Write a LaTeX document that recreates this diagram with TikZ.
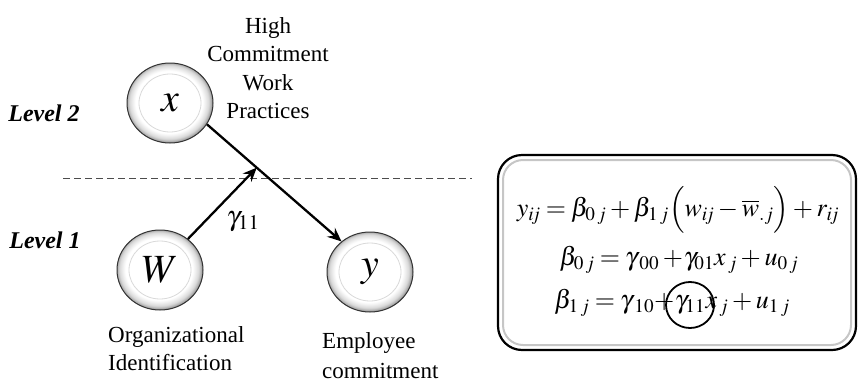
\documentclass[tikz,border=0pt]{standalone}
\usepackage{mathptmx}
\usepackage[no-math]{fontspec}
\setmainfont{Liberation Serif}
\usetikzlibrary{shapes.geometric,arrows.meta}

% soft rim for the variable bubbles
\pgfdeclareradialshading{bubblefill}{\pgfpoint{-1bp}{1bp}}{%
  color(0bp)=(white); color(19.5bp)=(white); color(21bp)=(gray!12);
  color(23bp)=(gray!30); color(24.5bp)=(gray!65); color(25bp)=(gray!80);
  color(50bp)=(gray!80)}

% slightly tighter spacing for the model equations
\newcommand{\tighteq}{\medmuskip=2.5mu plus 1mu minus 1mu\thickmuskip=3.5mu plus 2mu}

\begin{document}
\begin{tikzpicture}[x=1pt,y=-1pt,
  bubble/.style={ellipse, minimum width=86pt, minimum height=80pt, inner sep=0pt,
    draw=black!80, line width=1pt, shading=bubblefill,
    path picture={\draw[gray!30, line width=0.8pt]
      (path picture bounding box.center) ellipse (31pt and 29pt);},
    font=\fontsize{40}{40}\selectfont},
  link/.style={line width=2.3pt, -{Stealth[length=14pt, width=12pt, inset=5pt]}},
  levelsep/.style={gray!60!black, line width=1pt, dash pattern=on 7pt off 4pt},
  lbl/.style={inner sep=0pt, font=\fontsize{23}{28.5}\selectfont},
  levellbl/.style={inner sep=0pt, font=\fontsize{24}{28}\selectfont\bfseries\itshape},
  eqn/.style={inner sep=0pt, font=\fontsize{26}{30}\selectfont\tighteq},
  eqframe/.style={rectangle, draw=black, line width=2.2pt, rounded corners=24pt,
    inner sep=0pt},
  eqframein/.style={rectangle, draw=gray!45, line width=2pt, rounded corners=20pt,
    inner sep=0pt},
  ring/.style={ellipse, draw=black, line width=1.8pt, inner sep=0pt,
    minimum width=48pt, minimum height=46pt}
]
\useasboundingbox (0,0) rectangle (860,381);

% level separator
\coordinate (dl) at (63,178);
\coordinate (dr) at (472,178);
\draw[levelsep] (dl) -- (dr);

\node[levellbl] (lv2) at (44,113) {Level 2};
\node[levellbl] (lv1) at (45,240) {Level 1};

% variables
\node[bubble] (x) at (170,103) {$x$};
\node[bubble] (W) at (160,270) {$W$};
\node[bubble] (y) at (370,272) {$y$};

% paths
\draw[link] (x.-30) -- coordinate[pos=0.37] (m) (y.133);
\draw[link] (W.48) -- (m);
\node[inner sep=0pt, font=\fontsize{28}{28}\selectfont] (g11) at (243,222) {$\gamma_{11}$};

% variable labels
\node[lbl, align=center, anchor=north] (hcwp) at (268,17)
  {High\\Commitment\\Work\\Practices};
\node[lbl, align=left, anchor=north west] (oid) at (108,326)
  {Organizational\\Identification};
\node[lbl, align=left, anchor=north west, font=\fontsize{23}{30}\selectfont] (ecm) at (322,332)
  {Employee\\commitment};

% model equations
\node[eqframe, minimum width=358pt, minimum height=195pt] (box) at (677,252.5) {};
\node[eqframein, minimum width=348pt, minimum height=185pt] (boxin) at (box.center) {};
\node[eqn] (eq1) at (678,210)
  {$y_{i\!j}=\beta_{0\mkern2mu j}+\beta_{1\mkern2mu j}\Bigl(w_{i\!j}-\overline{w}_{.j}\Bigr)+r_{i\!j}$};
\node[eqn] (eq2) at (679,260)
  {$\beta_{0\mkern2mu j}=\gamma_{\;00}+\!\gamma_{01}x_{\,j}+u_{0\mkern2mu j}$};
% third line, split so the cross-level term can be ringed
\node[eqn] (eq3b) at (690,305) {$\gamma_{11}$};
\node[eqn, anchor=base east] (eq3a) at (eq3b.base west) {$\beta_{1\mkern2mu j}=\gamma_{\;10}+$};
\node[eqn, anchor=base west] (eq3c) at (eq3b.base east) {$x_{\,j}+u_{1\mkern2mu j}$};
\node[ring] (hl) at (eq3b.center) {};
\end{tikzpicture}
\end{document}
